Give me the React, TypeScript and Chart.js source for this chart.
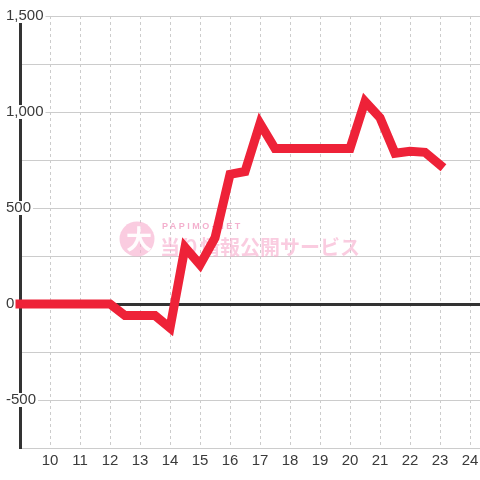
import { useEffect, useRef } from 'react';
import { Chart, registerables } from 'chart.js';

Chart.register(...registerables);

// Hour of the day (x) and value (y) of the line
const hours = [9, 9.5, 10, 10.5, 11, 11.5, 12, 12.5, 13, 13.5, 14, 14.5, 15, 15.5, 16, 16.5, 17, 17.5, 18, 18.5, 19, 19.5, 20, 20.5, 21, 21.5, 22, 22.5, 23];
const values = [0, 0, 0, 0, 0, 0, 0, -60, -60, -60, -125, 295, 205, 345, 675, 690, 940, 810, 810, 810, 810, 810, 810, 1055, 970, 785, 795, 790, 725];

// x-axis ticks (hour 9 sits on the y axis and has no label)
const xTicks = [9, 10, 11, 12, 13, 14, 15, 16, 17, 18, 19, 20, 21, 22, 23, 24];

const xMin = 9;
const xMax = 24.333;
const yMin = -750;
const yMax = 1500;
const yStep = 250;
const yLabelEvery = 500;

const watermarkBrand = 'PAPIMO-NET';
const watermarkTitle = '当り情報公開サービス';
const watermarkLogo = '大';

const FONT = '"Liberation Sans", Arial, sans-serif';
const CJK = '"Noto Sans CJK JP", sans-serif';

const watermarkPlugin = {
  id: 'watermark',
  beforeDatasetsDraw(chart: any) {
    const ctx = chart.ctx as CanvasRenderingContext2D;
    const cx = chart.width / 2;
    const cy = chart.height / 2;
    ctx.save();
    const pink = 'rgba(246, 170, 204, 0.6)';
    // logo circle
    ctx.fillStyle = pink;
    ctx.beginPath();
    ctx.arc(cx - 103, cy - 1, 17.5, 0, Math.PI * 2);
    ctx.fill();
    ctx.fillStyle = 'rgba(255,255,255,0.95)';
    ctx.font = `bold 26px ${CJK}`;
    ctx.textAlign = 'center';
    ctx.textBaseline = 'middle';
    ctx.fillText(watermarkLogo, cx - 101, cy - 1);
    // brand
    ctx.fillStyle = 'rgba(240, 150, 190, 0.75)';
    ctx.font = `bold 9px ${FONT}`;
    ctx.textAlign = 'left';
    (ctx as any).letterSpacing = '2.5px';
    ctx.fillText(watermarkBrand, cx - 78, cy - 13);
    (ctx as any).letterSpacing = '0px';
    // title
    ctx.fillStyle = pink;
    ctx.font = `bold 20px ${CJK}`;
    ctx.fillText(watermarkTitle, cx - 80, cy + 7);
    ctx.restore();
  },
};

export default function App() {
  const ref = useRef<HTMLCanvasElement>(null);

  useEffect(() => {
    if (!ref.current) return;
    const chart = new Chart(ref.current, {
      type: 'line',
      data: {
        datasets: [
          {
            data: hours.map((h, i) => ({ x: h, y: values[i] })),
            borderColor: '#ee2238',
            borderWidth: 9,
            pointRadius: 0,
            pointHoverRadius: 0,
            tension: 0,
            fill: false,
            borderCapStyle: 'square',
            borderJoinStyle: 'miter',
            clip: 8,
          },
        ],
      },
      options: {
        responsive: false,
        animation: false,
        events: [],
        layout: { padding: { left: 4, top: 16, right: 0, bottom: 0 } },
        plugins: {
          legend: { display: false },
          tooltip: { enabled: false },
          title: { display: false },
        },
        scales: {
          x: {
            type: 'linear',
            min: xMin,
            max: xMax,
            afterBuildTicks: (s: any) => {
              s.ticks = xTicks.map((v) => ({ value: v }));
            },
            afterFit: (s: any) => {
              s.height = 32;
              s.paddingLeft = 0;
              s.paddingRight = 0;
            },
            ticks: {
              stepSize: 1,
              autoSkip: false,
              maxRotation: 0,
              padding: 4,
              color: '#3a3a3a',
              font: { family: FONT, size: 15 },
              callback: (v: any) => (v === xMin ? '' : String(v)),
            },
            grid: {
              drawTicks: false,
              color: '#cccccc',
              lineWidth: 1,
            },
            border: { display: true, color: '#cccccc', width: 1, dash: [3, 3] },
          },
          y: {
            type: 'linear',
            min: yMin,
            max: yMax,
            afterFit: (s: any) => {
              s.width = 16;
              s.paddingTop = 0;
              s.paddingBottom = 0;
            },
            ticks: {
              stepSize: yStep,
              autoSkip: false,
              mirror: true,
              crossAlign: 'near',
              padding: -14,
              color: '#3a3a3a',
              font: { family: FONT, size: 15, lineHeight: 0.8 },
              showLabelBackdrop: (c: any) => c.tick && c.tick.value % yLabelEvery === 0,
              backdropColor: '#ffffff',
              backdropPadding: { left: 2, right: 2, top: 1, bottom: 1 },
              callback: (v: any) => (Number(v) % yLabelEvery === 0 ? Number(v).toLocaleString('en-US') : ''),
            },
            grid: {
              drawTicks: false,
              color: (c: any) => (c.tick && c.tick.value === 0 ? '#333333' : '#cccccc'),
              lineWidth: (c: any) => (c.tick && c.tick.value === 0 ? 3 : 1),
            },
            border: { display: true, color: '#333333', width: 3 },
          },
        },
      },
      plugins: [watermarkPlugin],
    } as any);
    return () => chart.destroy();
  }, []);

  return (
    <div style={{ position: 'absolute', left: 0, top: 0, width: 480, height: 480, background: '#fff' }}>
      <canvas ref={ref} width={480} height={480} style={{ display: 'block', width: 480, height: 480 }} />
    </div>
  );
}
